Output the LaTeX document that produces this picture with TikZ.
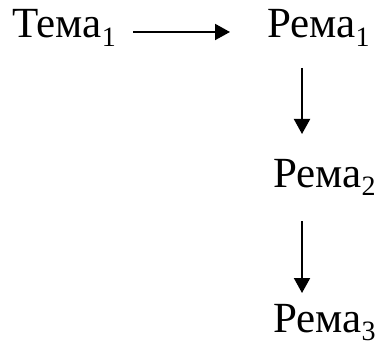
\documentclass[tikz,border=0pt]{standalone}
\usepackage{fontspec}
\setmainfont{Liberation Serif}
\usetikzlibrary{arrows.meta}
\newcommand{\sbx}[1]{\raisebox{-0.2em}{\fontsize{28}{32}\selectfont #1}}
\tikzset{
  lbl/.style={inner sep=0pt, anchor=base west, font=\fontsize{43}{50}\selectfont},
  arr/.style={line width=2pt, -{Triangle[length=15pt,width=16pt]}}
}
\begin{document}
\begin{tikzpicture}[x=1pt,y=1pt]
\useasboundingbox (0,0) rectangle (379,340);
\node[lbl] (t1) at (12,302) {Тема\sbx{1}};
\node[lbl] (r1) at (267,302) {Рема\sbx{1}};
\node[lbl] (r2) at (273,153) {Рема\sbx{2}};
\node[lbl] (r3) at (273,8) {Рема\sbx{3}};
\draw[arr] ([shift={(121pt,6pt)}]t1.base west) -- ([shift={(-37pt,6pt)}]r1.base west);
\draw[arr] ([shift={(35pt,-30pt)}]r1.base west) -- ([shift={(29pt,53pt)}]r2.base west);
\draw[arr] ([shift={(29pt,-34pt)}]r2.base west) -- ([shift={(29pt,39pt)}]r3.base west);
\end{tikzpicture}
\end{document}
